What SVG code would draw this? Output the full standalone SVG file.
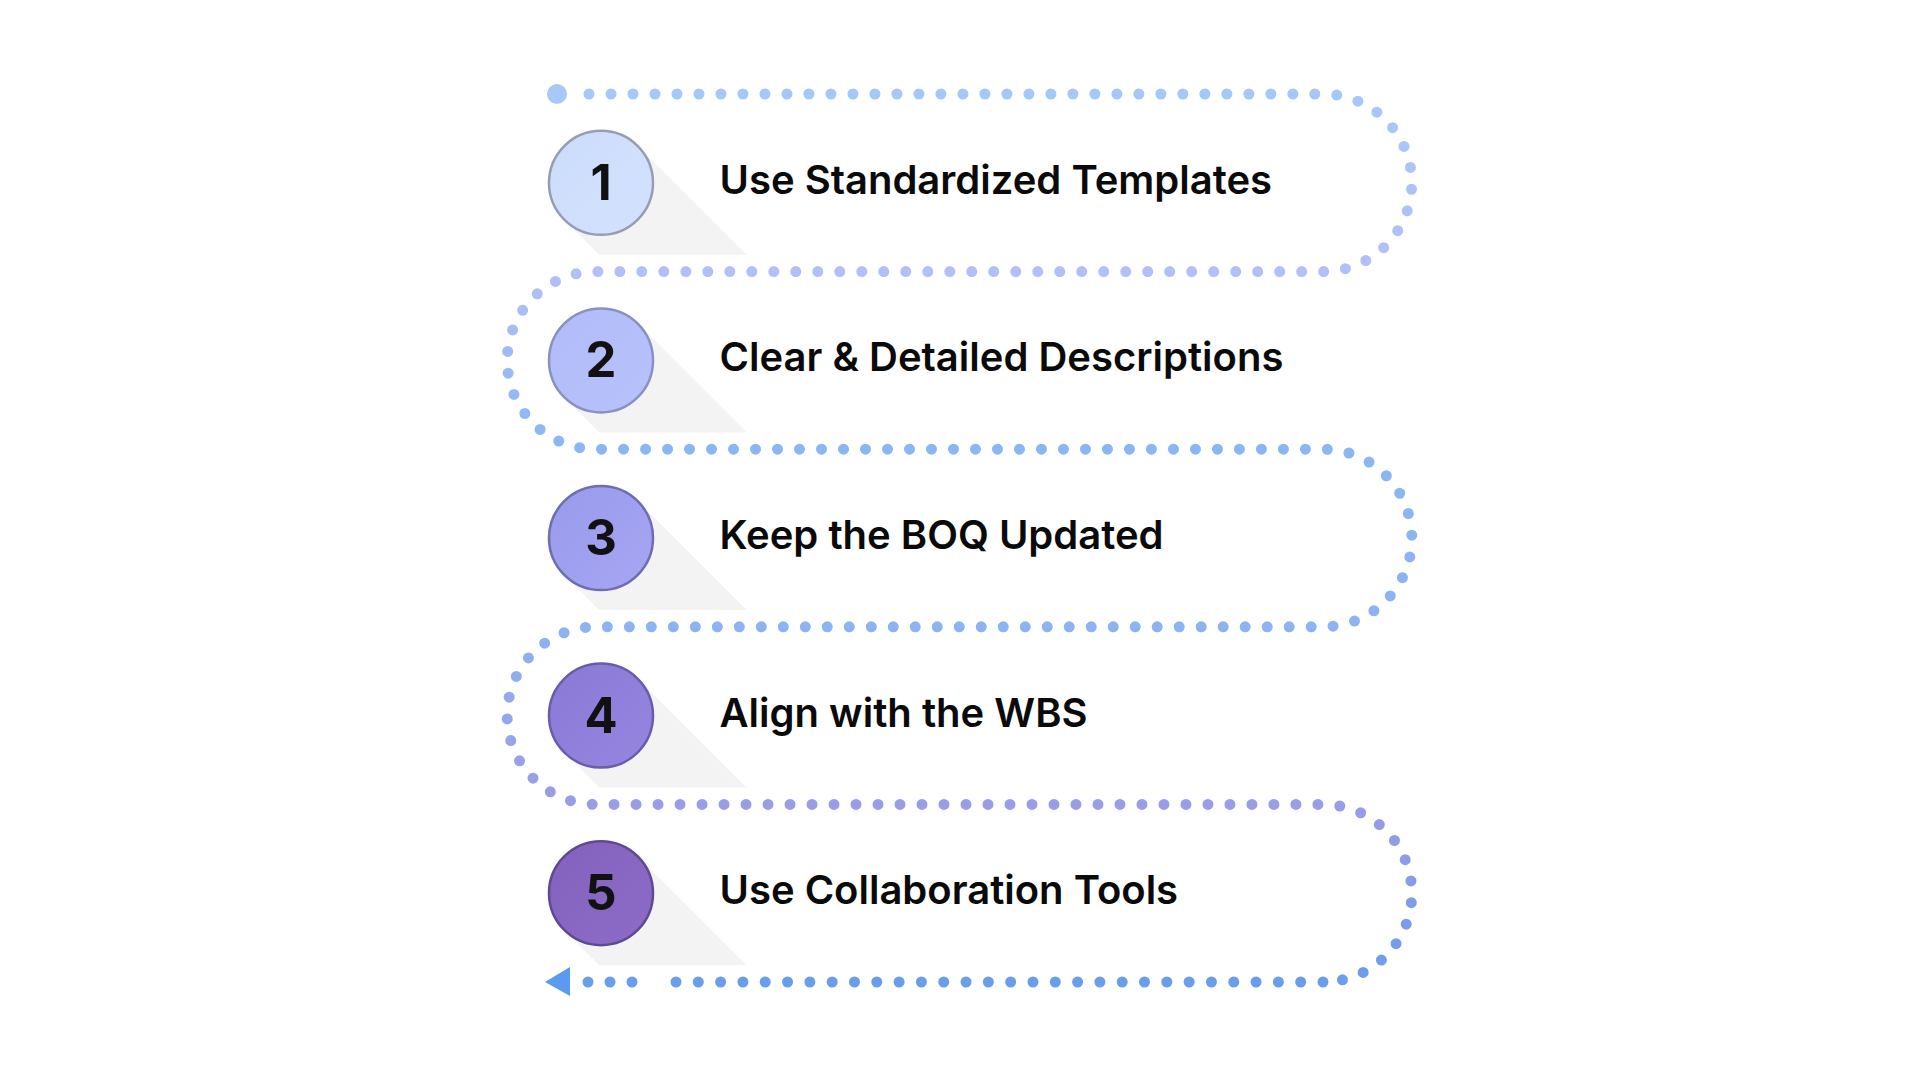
<svg xmlns="http://www.w3.org/2000/svg" width="1920" height="1080" viewBox="0 0 1920 1080">
<defs>
<style>
.shadow{fill:#f3f3f3}
.num{font-family:Inter,"Liberation Sans",sans-serif;font-weight:700;font-size:49px;fill:#111111;text-anchor:middle}
.label{font-family:Inter,"Liberation Sans",sans-serif;font-weight:600;font-size:40px;fill:#0a0a0a}
.dots{fill:none;stroke-width:11;stroke-linecap:round}
</style>
<linearGradient id="pathGrad" gradientUnits="userSpaceOnUse" x1="0" y1="94" x2="0" y2="982">
<stop offset="0" stop-color="#a6c8f8"/>
<stop offset="0.2" stop-color="#b3bff8"/>
<stop offset="0.4" stop-color="#8ab6f4"/>
<stop offset="0.6" stop-color="#8db3f2"/>
<stop offset="0.8" stop-color="#9a9ce8"/>
<stop offset="1" stop-color="#6a9eec"/>
</linearGradient>
<linearGradient id="g1" x1="0" y1="0" x2="1" y2="1"><stop offset="0" stop-color="#cbdcfb"/><stop offset="1" stop-color="#d3e2fd"/></linearGradient>
<linearGradient id="g2" x1="0" y1="0" x2="1" y2="1"><stop offset="0" stop-color="#b0bbf8"/><stop offset="1" stop-color="#b8c3fc"/></linearGradient>
<linearGradient id="g3" x1="0" y1="0" x2="1" y2="1"><stop offset="0" stop-color="#9a9aec"/><stop offset="1" stop-color="#a6a6f4"/></linearGradient>
<linearGradient id="g4" x1="0" y1="0" x2="1" y2="1"><stop offset="0" stop-color="#8a7ad6"/><stop offset="1" stop-color="#9686e0"/></linearGradient>
<linearGradient id="g5" x1="0" y1="0" x2="1" y2="1"><stop offset="0" stop-color="#8262bc"/><stop offset="1" stop-color="#8c6cc6"/></linearGradient>
</defs>
<rect width="1920" height="1080" fill="#ffffff"/>

<g id="node-1" transform="translate(601,182.8)">
<polygon class="shadow" points="36.8,-36.8 145.6,72 -1.6,72 -36.8,36.8"/>
<circle r="52" fill="url(#g1)" stroke="#959cb4" stroke-width="2.5"/>
<text class="num" x="0" y="17">1</text>
<text class="label" x="118.5" y="11">Use Standardized Templates</text>
</g>
<g id="node-2" transform="translate(601,360.4)">
<polygon class="shadow" points="36.8,-36.8 145.6,72 -1.6,72 -36.8,36.8"/>
<circle r="52" fill="url(#g2)" stroke="#8890c4" stroke-width="2.5"/>
<text class="num" x="0" y="17">2</text>
<text class="label" x="118.5" y="11">Clear &amp; Detailed Descriptions</text>
</g>
<g id="node-3" transform="translate(601,538)">
<polygon class="shadow" points="36.8,-36.8 145.6,72 -1.6,72 -36.8,36.8"/>
<circle r="52" fill="url(#g3)" stroke="#6e6db4" stroke-width="2.5"/>
<text class="num" x="0" y="17">3</text>
<text class="label" x="118.5" y="11">Keep the BOQ Updated</text>
</g>
<g id="node-4" transform="translate(601,715.6)">
<polygon class="shadow" points="36.8,-36.8 145.6,72 -1.6,72 -36.8,36.8"/>
<circle r="52" fill="url(#g4)" stroke="#6a5cac" stroke-width="2.5"/>
<text class="num" x="0" y="17">4</text>
<text class="label" x="118.5" y="11">Align with the WBS</text>
</g>
<g id="node-5" transform="translate(601,893.2)">
<polygon class="shadow" points="36.8,-36.8 145.6,72 -1.6,72 -36.8,36.8"/>
<circle r="52" fill="url(#g5)" stroke="#5e4a94" stroke-width="2.5"/>
<text class="num" x="0" y="17">5</text>
<text class="label" x="118.5" y="11">Use Collaboration Tools</text>
</g>

<g id="connectors">
<circle cx="557" cy="94" r="10" fill="#a8c8f8"/>
<path class="dots" stroke="url(#pathGrad)" stroke-dasharray="0 21.9951" d="M589,94 H1323 A88.8,88.8 0 0 1 1323,271.6 H596 A88.8,88.8 0 0 0 596,449.2 H1323 A88.8,88.8 0 0 1 1323,626.8 H596 A88.8,88.8 0 0 0 596,804.4 H1323 A88.8,88.8 0 0 1 1323,982"/>
<path class="dots" stroke="#6a9eec" stroke-dasharray="0 22.3103" d="M1323,982 H675.5"/>
<path class="dots" stroke="#6a9eec" stroke-dasharray="0 22" d="M632,982 H587"/>
<polygon points="545,982 570,967 570,996" fill="#5b9bef"/>
</g>
</svg>
